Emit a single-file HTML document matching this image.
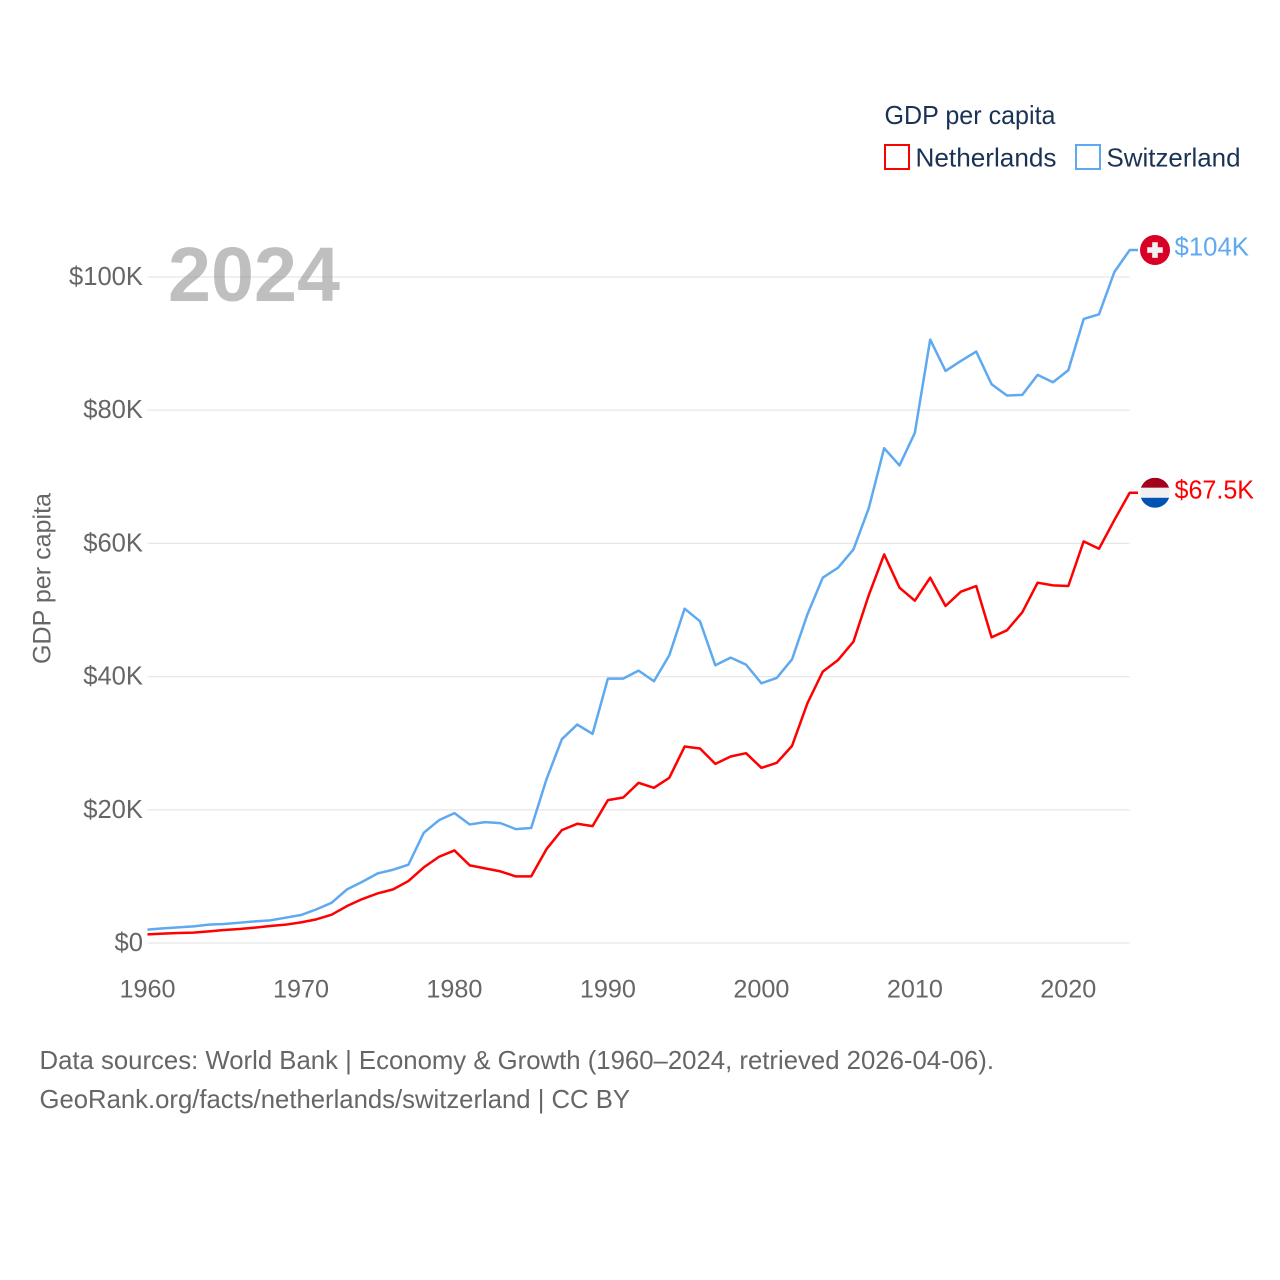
<!DOCTYPE html>
<html lang="en">
<head>
<meta charset="utf-8">
<title>GDP per capita: Netherlands and Switzerland</title>
<style>
html,body{margin:0;padding:0;background:#fff;}
svg{display:block;font-family:"Liberation Sans",sans-serif;}
</style>
</head>
<body>
<svg id="chart" xmlns="http://www.w3.org/2000/svg" width="1280" height="1280" viewBox="0 0 1280 1280">
  <rect x="0" y="0" width="1280" height="1280" fill="#ffffff"/>
  <g id="grid"></g>
  <text x="168" y="301" font-size="77" font-weight="700" fill="rgba(128,128,128,0.5)" textLength="172" lengthAdjust="spacingAndGlyphs">2024</text>
  <g id="yticks"></g>
  <g id="xticks"></g>
  <text transform="translate(50.5,578.5) rotate(-90)" text-anchor="middle" font-size="25" fill="#666666" textLength="171" lengthAdjust="spacingAndGlyphs">GDP per capita</text>
  <g id="series"></g>

  <g>
    <text x="884.5" y="124" font-size="26" fill="#1a3355" textLength="171" lengthAdjust="spacingAndGlyphs">GDP per capita</text>
    <rect x="885" y="145" width="24" height="24" fill="none" stroke="#ff0000" stroke-width="2"/>
    <text x="915.5" y="166.5" font-size="26" fill="#1a3355" textLength="141" lengthAdjust="spacingAndGlyphs">Netherlands</text>
    <rect x="1076" y="145" width="24" height="24" fill="none" stroke="#5ea9f0" stroke-width="2"/>
    <text x="1106.5" y="166.5" font-size="26" fill="#1a3355" textLength="134" lengthAdjust="spacingAndGlyphs">Switzerland</text>
  </g>

  <g id="ends"></g>

  <text x="39.5" y="1069" font-size="26" fill="#666666" textLength="954.5" lengthAdjust="spacingAndGlyphs">Data sources: World Bank | Economy &amp; Growth (1960–2024, retrieved 2026-04-06).</text>
  <text x="39.5" y="1108" font-size="26" fill="#666666" textLength="590.5" lengthAdjust="spacingAndGlyphs">GeoRank.org/facts/netherlands/switzerland | CC BY</text>
</svg>

<script>
const startYear = 1960;
const endYear = 2024;
const yTickValues = [0, 20, 40, 60, 80, 100];
const yTickLabels = ["$0", "$20K", "$40K", "$60K", "$80K", "$100K"];
const xTickYears = [1960, 1970, 1980, 1990, 2000, 2010, 2020];
const netherlandsValues = [
  1.3, 1.4, 1.5, 1.55, 1.75, 1.95, 2.1, 2.3, 2.55, 2.75,
  3.1, 3.55, 4.25, 5.55, 6.6, 7.45, 8.05, 9.3, 11.35, 12.95,
  13.9, 11.65, 11.2, 10.75, 10.0, 10.0, 14.1, 16.95, 17.9, 17.55,
  21.45, 21.85, 24.05, 23.3, 24.8, 29.5, 29.2, 26.9, 28.0, 28.5,
  26.3, 27.05, 29.6, 36.0, 40.75, 42.5, 45.25, 52.25, 58.35, 53.35,
  51.4, 54.85, 50.6, 52.75, 53.6, 45.9, 46.95, 49.65, 54.1, 53.7,
  53.6, 60.3, 59.2, 63.5, 67.6
];
const switzerlandValues = [
  2.0, 2.2, 2.35, 2.5, 2.75, 2.85, 3.05, 3.25, 3.4, 3.8,
  4.2, 5.05, 6.05, 8.05, 9.2, 10.45, 11.0, 11.75, 16.55, 18.45,
  19.5, 17.8, 18.15, 18.0, 17.1, 17.27, 24.6, 30.6, 32.8, 31.4,
  39.7, 39.7, 40.9, 39.3, 43.2, 50.2, 48.3, 41.7, 42.85, 41.8,
  39.0, 39.8, 42.6, 49.35, 54.85, 56.35, 59.1, 65.3, 74.3, 71.7,
  76.6, 90.6, 85.9, 87.4, 88.8, 83.9, 82.2, 82.3, 85.3, 84.2,
  86.0, 93.7, 94.4, 100.75, 104.05
];
const netherlandsEndLabel = "$67.5K";
const switzerlandEndLabel = "$104K";

const NS = "http://www.w3.org/2000/svg";
const plotLeft = 147.5, plotRight = 1129.7, plotBottom = 943, plotTop100 = 277;
function xScale(year) {
  return plotLeft + (year - startYear) / (endYear - startYear) * (plotRight - plotLeft);
}
function yScale(value) {
  return plotBottom - value / 100 * (plotBottom - plotTop100);
}
function make(tag, parent) {
  const el = document.createElementNS(NS, tag);
  parent.appendChild(el);
  return el;
}
function set(el, props) {
  for (const k in props) el.setAttribute(k, props[k]);
  return el;
}

const gridG = document.getElementById("grid");
const yG = document.getElementById("yticks");
yTickValues.forEach(function (v, i) {
  const ln = make("line", gridG);
  set(ln, { x1: plotLeft, x2: plotRight, y1: yScale(v), y2: yScale(v), stroke: "#e8e8e8", "stroke-width": 1.3 });
  
  
  const t = make("text", yG);
  set(t, { x: 143, y: yScale(v) + 8, "text-anchor": "end", "font-size": 25.6, fill: "#666666" });
  t.textContent = yTickLabels[i];
  
  
});

const xG = document.getElementById("xticks");
xTickYears.forEach(function (yr) {
  const t = make("text", xG);
  set(t, { x: xScale(yr), y: 997.5, "text-anchor": "middle", "font-size": 25.2, fill: "#666666" });
  t.textContent = String(yr);
  
  
});

function linePoints(values) {
  const pts = values.map(function (v, i) {
    return xScale(startYear + i).toFixed(2) + "," + yScale(v).toFixed(2);
  });
  pts.push("1138," + yScale(values[values.length - 1]).toFixed(2));
  return pts.join(" ");
}
const seriesG = document.getElementById("series");
const redLine = make("polyline", seriesG);
set(redLine, { points: linePoints(netherlandsValues), fill: "none", stroke: "#ff0000", "stroke-width": 2.5, "stroke-linejoin": "round" });


const blueLine = make("polyline", seriesG);
set(blueLine, { points: linePoints(switzerlandValues), fill: "none", stroke: "#5ea9f0", "stroke-width": 2.5, "stroke-linejoin": "round" });



const endsG = document.getElementById("ends");
const chY = yScale(switzerlandValues[switzerlandValues.length - 1]);
const nlY = yScale(netherlandsValues[netherlandsValues.length - 1]);

const chFlag = make("g", endsG);
set(chFlag, { transform: "translate(1155," + chY + ")" });


set(make("circle", chFlag), { cx: 0, cy: 0, r: 15, fill: "#d80027" });
set(make("rect", chFlag), { x: -7.8, y: -2.8, width: 15.6, height: 5.6, fill: "#f0f0f0" });
set(make("rect", chFlag), { x: -2.8, y: -7.8, width: 5.6, height: 15.6, fill: "#f0f0f0" });

const chText = make("text", endsG);
set(chText, { x: 1174.5, y: chY + 5.5, "font-size": 26, fill: "#5ea9f0", textLength: 74.5, lengthAdjust: "spacingAndGlyphs" });
chText.textContent = switzerlandEndLabel;



const nlFlag = make("g", endsG);
set(nlFlag, { transform: "translate(1155," + nlY + ")" });


const clip = make("clipPath", nlFlag);
clip.setAttribute("id", "nl-clip");
set(make("circle", clip), { cx: 0, cy: 0, r: 15 });
const nlBands = make("g", nlFlag);
nlBands.setAttribute("clip-path", "url(#nl-clip)");
set(make("rect", nlBands), { x: -15, y: -15, width: 30, height: 10, fill: "#a2001d" });
set(make("rect", nlBands), { x: -15, y: -5, width: 30, height: 10, fill: "#f0f0f0" });
set(make("rect", nlBands), { x: -15, y: 5, width: 30, height: 10, fill: "#0052b4" });

const nlText = make("text", endsG);
set(nlText, { x: 1174.5, y: nlY + 5.5, "font-size": 26, fill: "#ff0000", textLength: 79.5, lengthAdjust: "spacingAndGlyphs" });
nlText.textContent = netherlandsEndLabel;


</script>
</body>
</html>
